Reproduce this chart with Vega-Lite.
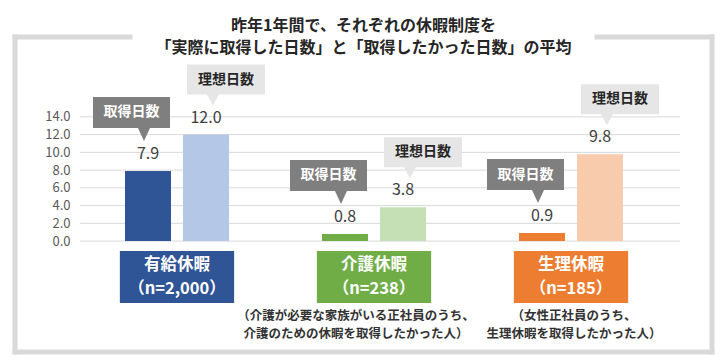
{
  "$schema": "https://vega.github.io/schema/vega-lite/v6.json",
  "autosize": {"type": "none"},
  "width": 697,
  "height": 315,
  "padding": {"left": 15, "top": 37, "right": 13, "bottom": 9},
  "background": "#ffffff",
  "config": {
    "view": {"stroke": null},
    "font": "Noto Sans CJK JP",
    "axisY": {"ticks": false, "domain": false, "grid": false, "labelColor": "#595959", "labelFontSize": 13, "labelPadding": 10, "labelFont": "Noto Sans CJK JP"}
  },
  "title": {
    "text": ["昨年1年間で、それぞれの休暇制度を", "「実際に取得した日数」と「取得したかった日数」の平均"],
    "anchor": "middle",
    "frame": "group",
    "fontSize": 16,
    "fontWeight": "bold",
    "color": "#262626",
    "lineHeight": 22,
    "baseline": "middle",
    "offset": -31,
    "font": "Noto Sans CJK JP"
  },
  "datasets": {
    "bars": [
      {"group": "有給休暇", "type": "取得日数", "days": 7.9},
      {"group": "有給休暇", "type": "理想日数", "days": 12.0},
      {"group": "介護休暇", "type": "取得日数", "days": 0.8},
      {"group": "介護休暇", "type": "理想日数", "days": 3.8},
      {"group": "生理休暇", "type": "取得日数", "days": 0.9},
      {"group": "生理休暇", "type": "理想日数", "days": 9.8}
    ],
    "cats": [
      {"group": "有給休暇", "n": "（n=2,000）", "note1": " ", "note2": " "},
      {"group": "介護休暇", "n": "（n=238）", "note1": "（介護が必要な家族がいる正社員のうち、", "note2": "介護のための休暇を取得したかった人）"},
      {"group": "生理休暇", "n": "（n=185）", "note1": "（女性正社員のうち、", "note2": "生理休暇を取得したかった人）"}
    ],
    "ticks": [{"v": 0}, {"v": 2}, {"v": 4}, {"v": 6}, {"v": 8}, {"v": 10}, {"v": 12}, {"v": 14}]
  },
  "layer": [
    {
      "layer": [
        {
          "data": {"name": "ticks"},
          "mark": {"type": "rule", "color": "#d9d9d9", "strokeWidth": 1},
          "encoding": {
            "x": {"datum": 0.0933, "type": "quantitative", "scale": {"domain": [0, 1], "nice": false, "zero": false}, "axis": null},
            "x2": {"datum": 0.954},
            "y": {"field": "v", "type": "quantitative", "title": null, "scale": {"domain": [-12.5, 23], "nice": false, "zero": false}, "axis": {"values": [0, 2, 4, 6, 8, 10, 12, 14], "format": ".1f", "offset": -65, "title": null}}
          }
        },
        {
          "data": {"values": [{}]},
          "mark": {"type": "rule", "color": "#d9d9d9", "strokeWidth": 5, "strokeCap": "square"},
          "encoding": {"x": {"datum": 0, "type": "quantitative"}, "y": {"datum": -12.5, "type": "quantitative"}, "y2": {"datum": 23}}
        },
        {
          "data": {"values": [{}]},
          "mark": {"type": "rule", "color": "#d9d9d9", "strokeWidth": 5, "strokeCap": "square"},
          "encoding": {"x": {"datum": 1, "type": "quantitative"}, "y": {"datum": -12.5, "type": "quantitative"}, "y2": {"datum": 23}}
        },
        {
          "data": {"values": [{}]},
          "mark": {"type": "rule", "color": "#d9d9d9", "strokeWidth": 5, "strokeCap": "square"},
          "encoding": {"x": {"datum": 0, "type": "quantitative"}, "x2": {"datum": 1}, "y": {"datum": -12.5, "type": "quantitative"}}
        },
        {
          "data": {"values": [{}]},
          "mark": {"type": "rule", "color": "#d9d9d9", "strokeWidth": 5, "strokeCap": "square"},
          "encoding": {"x": {"datum": 0, "type": "quantitative"}, "x2": {"datum": 0.165}, "y": {"datum": 23, "type": "quantitative"}}
        },
        {
          "data": {"values": [{}]},
          "mark": {"type": "rule", "color": "#d9d9d9", "strokeWidth": 5, "strokeCap": "square"},
          "encoding": {"x": {"datum": 0.835, "type": "quantitative"}, "x2": {"datum": 1}, "y": {"datum": 23, "type": "quantitative"}}
        }
      ]
    },
    {
      "data": {"name": "bars"},
      "resolve": {"scale": {"color": "independent"}},
      "encoding": {
        "x": {"field": "group", "type": "nominal", "scale": {"domain": ["有給休暇", "介護休暇", "生理休暇"], "paddingInner": 0, "paddingOuter": 0.269, "align": 0.599}, "axis": null},
        "y": {"field": "days", "type": "quantitative", "title": null, "scale": {"domain": [-12.5, 23], "nice": false, "zero": false}}
      },
      "layer": [
        {
          "transform": [{"filter": {"field": "type", "equal": "取得日数"}}],
          "mark": {"type": "bar"},
          "encoding": {
            "xOffset": {"field": "type", "type": "nominal", "scale": {"domain": ["取得日数", "理想日数"], "paddingInner": 0.207, "paddingOuter": 0.802}},
            "color": {"field": "group", "type": "nominal", "scale": {"domain": ["有給休暇", "介護休暇", "生理休暇"], "range": ["#2f5597", "#70ad47", "#ed7d31"]}, "legend": null}
          }
        },
        {
          "transform": [{"filter": {"field": "type", "equal": "理想日数"}}],
          "mark": {"type": "bar"},
          "encoding": {
            "xOffset": {"field": "type", "type": "nominal", "scale": {"domain": ["取得日数", "理想日数"], "paddingInner": 0.207, "paddingOuter": 0.802}},
            "color": {"field": "group", "type": "nominal", "scale": {"domain": ["有給休暇", "介護休暇", "生理休暇"], "range": ["#b4c7e7", "#c5e0b4", "#f8cbad"]}, "legend": null}
          }
        },
        {
          "mark": {"type": "text", "dy": -12, "baseline": "alphabetic", "fontSize": 16, "color": "#404040", "font": "Noto Sans CJK JP"},
          "encoding": {
            "xOffset": {"field": "type", "type": "nominal", "scale": {"domain": ["取得日数", "理想日数"], "paddingInner": 0.207, "paddingOuter": 0.802}},
            "text": {"field": "days", "type": "quantitative", "format": ".1f"}
          }
        },
        {
          "transform": [{"filter": {"field": "type", "equal": "取得日数"}}],
          "mark": {"type": "point", "shape": "M-55,-74L22,-74L22,-43L2,-43L-4,-30L-10,-43L-55,-43Z", "size": 4, "filled": true, "opacity": 1, "color": "#7f7f7f", "strokeWidth": 0},
          "encoding": {
            "xOffset": {"field": "type", "type": "nominal", "scale": {"domain": ["取得日数", "理想日数"], "paddingInner": 0.207, "paddingOuter": 0.802}}
          }
        },
        {
          "transform": [{"filter": {"field": "type", "equal": "取得日数"}}],
          "mark": {"type": "text", "dx": -16.5, "dy": -58.5, "baseline": "middle", "fontSize": 14, "fontWeight": "bold", "color": "#ffffff"},
          "encoding": {
            "xOffset": {"field": "type", "type": "nominal", "scale": {"domain": ["取得日数", "理想日数"], "paddingInner": 0.207, "paddingOuter": 0.802}},
            "text": {"field": "type", "type": "nominal"}
          }
        },
        {
          "transform": [{"filter": {"field": "type", "equal": "理想日数"}}],
          "mark": {"type": "point", "shape": "M-19,-70L59,-70L59,-40L13,-40L7,-29L1,-40L-19,-40Z", "size": 4, "filled": true, "opacity": 1, "color": "#e7e6e6", "strokeWidth": 0},
          "encoding": {
            "xOffset": {"field": "type", "type": "nominal", "scale": {"domain": ["取得日数", "理想日数"], "paddingInner": 0.207, "paddingOuter": 0.802}}
          }
        },
        {
          "transform": [{"filter": {"field": "type", "equal": "理想日数"}}],
          "mark": {"type": "text", "dx": 20, "dy": -55, "baseline": "middle", "fontSize": 14, "fontWeight": "bold", "color": "#262626"},
          "encoding": {
            "xOffset": {"field": "type", "type": "nominal", "scale": {"domain": ["取得日数", "理想日数"], "paddingInner": 0.207, "paddingOuter": 0.802}},
            "text": {"field": "type", "type": "nominal"}
          }
        }
      ]
    },
    {
      "data": {"name": "cats"},
      "resolve": {"scale": {"color": "independent"}},
      "encoding": {
        "x": {"field": "group", "type": "nominal", "scale": {"domain": ["有給休暇", "介護休暇", "生理休暇"], "paddingInner": 0, "paddingOuter": 0.269, "align": 0.599}, "axis": null}
      },
      "layer": [
        {
          "mark": {"type": "bar", "width": {"band": 0.58}},
          "encoding": {
            "y": {"datum": -1.127, "type": "quantitative", "scale": {"domain": [-12.5, 23], "nice": false, "zero": false}},
            "y2": {"datum": -6.99},
            "color": {"field": "group", "type": "nominal", "scale": {"domain": ["有給休暇", "介護休暇", "生理休暇"], "range": ["#2f5597", "#70ad47", "#ed7d31"]}, "legend": null}
          }
        },
        {
          "mark": {"type": "text", "baseline": "middle", "fontSize": 16.5, "fontWeight": "bold", "color": "#ffffff"},
          "encoding": {
            "y": {"datum": -2.65, "type": "quantitative"},
            "text": {"field": "group", "type": "nominal"}
          }
        },
        {
          "mark": {"type": "text", "baseline": "middle", "fontSize": 16.5, "fontWeight": "bold", "color": "#ffffff"},
          "encoding": {
            "y": {"datum": -5.35, "type": "quantitative"},
            "text": {"field": "n", "type": "nominal"}
          }
        },
        {
          "transform": [{"filter": {"field": "group", "equal": "介護休暇"}}],
          "mark": {"type": "text", "baseline": "middle", "fontSize": 12.5, "fontWeight": "bold", "color": "#333333", "dx": -18},
          "encoding": {
            "y": {"datum": -8.4, "type": "quantitative"},
            "text": {"field": "note1", "type": "nominal"}
          }
        },
        {
          "transform": [{"filter": {"field": "group", "equal": "介護休暇"}}],
          "mark": {"type": "text", "baseline": "middle", "fontSize": 12.5, "fontWeight": "bold", "color": "#333333", "dx": -18},
          "encoding": {
            "y": {"datum": -10.5, "type": "quantitative"},
            "text": {"field": "note2", "type": "nominal"}
          }
        },
        {
          "transform": [{"filter": {"field": "group", "equal": "生理休暇"}}],
          "mark": {"type": "text", "baseline": "middle", "fontSize": 12.5, "fontWeight": "bold", "color": "#333333", "dx": 3},
          "encoding": {
            "y": {"datum": -8.4, "type": "quantitative"},
            "text": {"field": "note1", "type": "nominal"}
          }
        },
        {
          "transform": [{"filter": {"field": "group", "equal": "生理休暇"}}],
          "mark": {"type": "text", "baseline": "middle", "fontSize": 12.5, "fontWeight": "bold", "color": "#333333", "dx": 3},
          "encoding": {
            "y": {"datum": -10.5, "type": "quantitative"},
            "text": {"field": "note2", "type": "nominal"}
          }
        }
      ]
    }
  ],
  "resolve": {"scale": {"x": "independent", "color": "independent"}}
}
